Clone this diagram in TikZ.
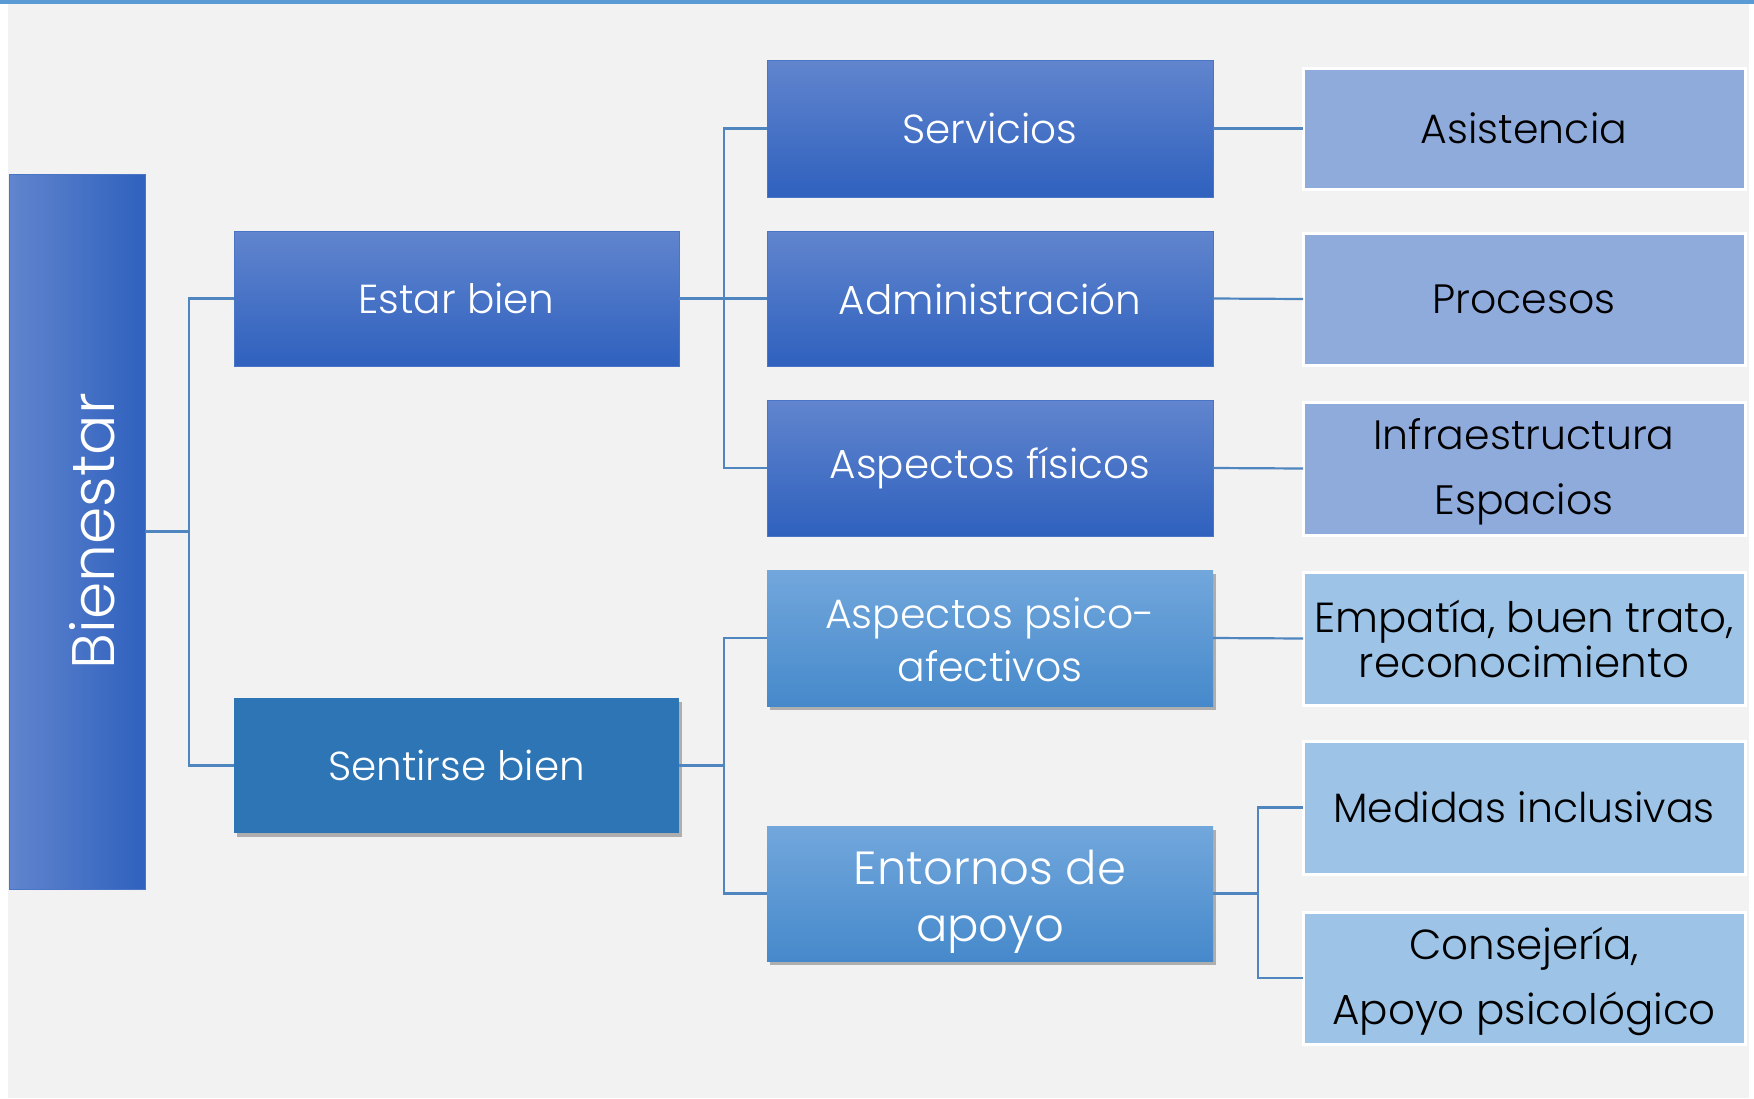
\documentclass[tikz,border=0pt]{standalone}
\usepackage{fontspec}
\setmainfont{Poppins Light}
\usetikzlibrary{shadows}
\definecolor{bgc}{HTML}{F2F2F2}
\definecolor{topline}{HTML}{5B9BD5}
\definecolor{dtop}{HTML}{6185CE}
\definecolor{dbot}{HTML}{2F61BE}
\definecolor{dborder}{HTML}{4A74C6}
\definecolor{sentc}{HTML}{2E75B6}
\definecolor{ltop}{HTML}{72A7DC}
\definecolor{lbot}{HTML}{4689CB}
\definecolor{rone}{HTML}{8FABDC}
\definecolor{rtwo}{HTML}{9DC3E6}
\definecolor{connc}{HTML}{4F86C0}
\newcommand\fsize[2]{\fontsize{#1}{#2}\selectfont}
\newcommand\dn[2]{\rule{0pt}{\dimexpr\fontcharht\font`#1+#2\relax}}
\begin{document}
\begin{tikzpicture}[x=1pt,y=-1pt,
  every node/.style={inner sep=0pt, outer sep=0pt, anchor=north west, align=center},
  darkbox/.style={top color=dtop, bottom color=dbot, draw=dborder, line width=0.8pt,
    minimum width=446pt, text=white, font=\fsize{40.5}{48}},
  sentbox/.style={fill=sentc, minimum width=445pt, text=white, font=\fsize{40.5}{48},
    drop shadow={shadow xshift=3pt, shadow yshift=-4pt, opacity=.28, fill=black}},
  lightbox/.style={top color=ltop, bottom color=lbot, minimum width=446pt, text=white,
    drop shadow={shadow xshift=3pt, shadow yshift=-4pt, opacity=.28, fill=black}},
  rightone/.style={fill=rone, draw=white, line width=3pt, minimum width=442pt, text=black, font=\fsize{41}{65}},
  righttwo/.style={fill=rtwo, draw=white, line width=3pt, minimum width=442pt, text=black, font=\fsize{41}{65}},
  conn/.style={draw=connc, line width=2.2pt}
]
\useasboundingbox (0,0) rectangle (1754,1098);
\fill[white] (0,0) rectangle (1754,1098);
\fill[bgc] (8,4) rectangle (1749,1098);
\fill[topline] (0,0) rectangle (1754,4);

% root
\node[left color=dtop, right color=dbot, draw=dborder, line width=0.8pt,
  minimum width=136pt, minimum height=715pt] (bien) at (9,174) {};
\node[rotate=90, anchor=base, text=white, font=\fsize{60}{70}] (bientext) at (114,531) {Bienestar};

% level 1
\node[darkbox, minimum width=445pt, minimum height=135pt] (estar) at (234,231) {Estar bien};
\node[sentbox, minimum height=135pt] (sentir) at (234,698) {Sentirse bien};

% level 2
\node[darkbox, minimum height=137pt] (serv) at (767,60) {Servicios};
\node[darkbox, minimum height=135pt] (admin) at (767,231) {Administración};
\node[darkbox, minimum height=136pt] (fis) at (767,400) {Aspectos físicos};
\node[lightbox, minimum height=136pt, font=\fsize{41}{53}] (psico) at (767,570) {\dn{d}{5pt}Aspectos psico-\\afectivos};
\node[lightbox, minimum height=135pt, font=\fsize{46.5}{57}] (ent) at (767,826) {\dn{d}{16pt}Entornos de\\apoyo};

% level 3
\node[rightone, minimum height=121pt] (asis) at (1303,68) {Asistencia};
\node[rightone, minimum height=132pt] (proc) at (1303,233) {Procesos};
\node[rightone, minimum height=133pt] (infra) at (1303,402) {\dn{f}{7pt}Infraestructura\\Espacios};
\node[righttwo, minimum height=133pt, font=\fsize{42}{45}] (emp) at (1303,572) {Empatía, buen trato,\\reconocimiento};
\node[righttwo, minimum height=133pt] (med) at (1303,741) {Medidas inclusivas};
\node[righttwo, minimum height=132pt, font=\fsize{42}{65}] (cons) at (1303,912) {\dn{í}{7pt}Consejería,\\Apoyo psicológico};

% junctions
\coordinate (j1) at (189,531.5);
\coordinate (j2) at (724,298.5);
\coordinate (j3) at (724,765.5);
\coordinate (j4) at (1258,893.5);

% connectors
\draw[conn] (bien.east) -- (j1) |- (estar.west);
\draw[conn] (j1) |- (sentir.west);
\draw[conn] (estar.east) -- (j2) |- (serv.west);
\draw[conn] (j2) -- (admin.west);
\draw[conn] (j2) |- (fis.west);
\draw[conn] (sentir.east) -- (j3) |- (psico.west);
\draw[conn] (j3) |- (ent.west);
\draw[conn] (serv.east) -- (asis.west);
\draw[conn] (admin.east) -- (proc.west);
\draw[conn] (fis.east) -- (infra.west);
\draw[conn] (psico.east) -- (emp.west);
\draw[conn] (ent.east) -- (j4) |- (med.west);
\draw[conn] (j4) |- (cons.west);
\end{tikzpicture}
\end{document}
